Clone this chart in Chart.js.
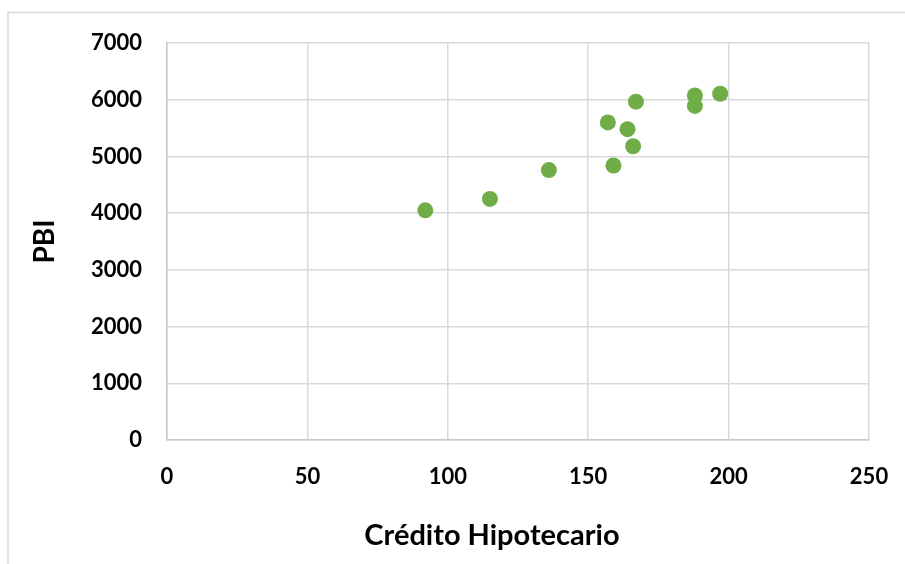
<!DOCTYPE html>
<html>
<head>
<meta charset="utf-8">
<script src="https://cdn.jsdelivr.net/npm/chart.js@4/dist/chart.umd.min.js"></script>
<style>
  html, body { margin: 0; padding: 0; background: #fff; }
  #wrap { width: 905px; height: 564px; }
</style>
</head>
<body>
<div id="wrap"><canvas id="myChart" width="905" height="564"></canvas></div>
<script>
// Crédito Hipotecario (x) vs PBI (y)
var credito = [92, 115, 136, 159, 157, 164, 166, 167, 188, 188, 197];
var pbi = [4050, 4250, 4760, 4840, 5600, 5480, 5180, 5965, 6075, 5890, 6105];
var xTicks = [0, 50, 100, 150, 200, 250];
var yTicks = [0, 1000, 2000, 3000, 4000, 5000, 6000, 7000];
var xTitle = 'Crédito Hipotecario';
var yTitle = 'PBI';

var points = [];
for (var i = 0; i < credito.length; i++) {
	points.push({x: credito[i], y: pbi[i]});
}

var gridColor = '#d9d9d9';
var tickFont = {family: 'Lato', size: 22, weight: 'bold'};

// white page, frame lines of the chart box, and the x title (sits left of centre like the original)
var frame = {
	id: 'frame',
	beforeDraw: function(chart) {
		var c = chart.ctx;
		c.save();
		c.fillStyle = '#fff';
		c.fillRect(0, 0, chart.width, chart.height);
		c.strokeStyle = '#d9d9d9';
		c.lineWidth = 1.5;
		c.beginPath();
		c.moveTo(8, chart.height);
		c.lineTo(8, 12.5);
		c.lineTo(chart.width, 12.5);
		c.stroke();
		c.restore();
	},
	afterDraw: function(chart) {
		var c = chart.ctx;
		c.save();
		c.fillStyle = '#000';
		c.font = 'bold 29px Lato';
		c.textAlign = 'center';
		c.textBaseline = 'alphabetic';
		c.fillText(xTitle, 492, 545);
		c.restore();
	}
};

function plain(v) { return String(v); }

var ctx = document.getElementById('myChart').getContext('2d');
var chart = new Chart(ctx, {
	type: 'scatter',
	data: {
		datasets: [{
			label: yTitle,
			data: points,
			backgroundColor: '#70AD47',
			borderWidth: 0,
			pointRadius: 8,
			pointHoverRadius: 8
		}]
	},
	options: {
		responsive: false,
		animation: false,
		layout: {padding: {left: 0, right: 36, top: 43, bottom: 0}},
		plugins: {
			legend: {display: false},
			tooltip: {enabled: false}
		},
		scales: {
			x: {
				type: 'linear',
				min: 0,
				max: 250,
				afterBuildTicks: function(scale) {
					scale.ticks = xTicks.map(function(v) { return {value: v}; });
				},
				afterFit: function(scale) {
					scale.height = 124;
					scale.paddingLeft = 0;
					scale.paddingRight = 0;
				},
				grid: {color: gridColor, lineWidth: 1.5, drawTicks: false},
				border: {color: '#c8c8c8', width: 1.5},
				ticks: {color: '#000', font: tickFont, padding: 24, maxRotation: 0, callback: plain}
			},
			y: {
				type: 'linear',
				min: 0,
				max: 7000,
				afterBuildTicks: function(scale) {
					scale.ticks = yTicks.map(function(v) { return {value: v}; });
				},
				afterFit: function(scale) { scale.width = 167; },
				grid: {color: gridColor, lineWidth: 1.5, drawTicks: false},
				border: {color: '#c8c8c8', width: 1.5},
				ticks: {color: '#000', font: tickFont, padding: 25, callback: plain},
				title: {
					display: true,
					text: yTitle,
					color: '#000',
					font: {family: 'Lato', size: 28, weight: 'bold'},
					padding: {top: 28, bottom: 0}
				}
			}
		}
	},
	plugins: [frame]
});
</script>
</body>
</html>
